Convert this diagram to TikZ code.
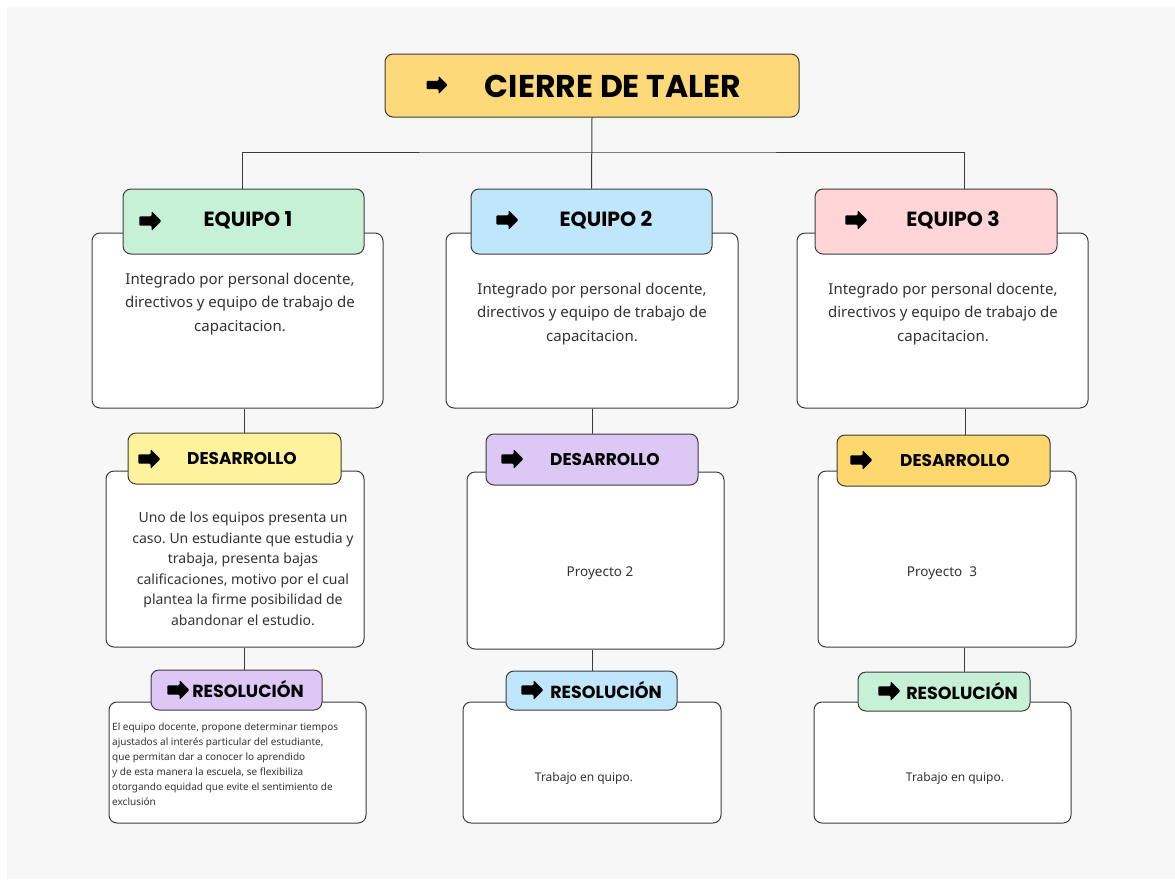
\documentclass[tikz,border=0pt]{standalone}
\usepackage{fontspec}
\setmainfont{Noto Sans}
\newfontfamily\headfont{Poppins}
\usetikzlibrary{shapes.arrows}
\frenchspacing

\definecolor{bggrey}{HTML}{F7F7F7}
\definecolor{linegrey}{HTML}{3C3C3C}
\definecolor{textgrey}{HTML}{333333}
\definecolor{titleyellow}{HTML}{FDD97A}
\definecolor{mintgreen}{HTML}{C6F1D6}
\definecolor{skyblue}{HTML}{BFE6FB}
\definecolor{rosepink}{HTML}{FFD5D8}
\definecolor{paleyellow}{HTML}{FEF39C}
\definecolor{lavender}{HTML}{DCC7F5}
\definecolor{gold}{HTML}{FDD86E}

\tikzset{
  box/.style={draw=linegrey, line width=1pt, rounded corners=8pt, fill=white, inner sep=0pt},
  bodytext/.style={text=textgrey, align=center, inner sep=0pt},
  headtext/.style={text=black, inner sep=0pt, font=\headfont\bfseries\fontsize{17}{20}\selectfont},
  eqtext/.style={headtext, font=\headfont\bfseries\fontsize{20.5}{22}\selectfont},
  arrowmark/.style={single arrow, fill=black, inner sep=4.4pt, minimum height=22pt,
    single arrow head extend=5.2pt, rounded corners=1pt},
  link/.style={draw=linegrey, line width=1pt}
}

\begin{document}
\begin{tikzpicture}[x=1pt,y=-1pt]
        \useasboundingbox (0,0) rectangle (1175,879);
        \fill[bggrey] (7,7) rectangle (1175,879);

        \node[box, fill=titleyellow, minimum width=414, minimum height=63] (title) at (592,85.5) {};
        \node[arrowmark, minimum height=21pt, inner sep=4pt, single arrow head extend=4.8pt] (titlea) at (435,85) {};
        \node[headtext, font=\headfont\bfseries\fontsize{31.5}{33}\selectfont] (titlet) at (613,86) {CIERRE DE TALER};

        \node[box, minimum width=291, minimum height=175] (e1b) at (237.5,320.5) {};
        \node[box, minimum width=292, minimum height=175] (e2b) at (592,320.5) {};
        \node[box, minimum width=291, minimum height=175] (e3b) at (942.5,320.5) {};

        \node[box, fill=mintgreen, minimum width=241, minimum height=65] (e1h) at (243.5,221.5) {};
        \node[box, fill=skyblue, minimum width=241, minimum height=65] (e2h) at (591.5,221.5) {};
        \node[box, fill=rosepink, minimum width=242, minimum height=65] (e3h) at (936,221.5) {};

        \node[arrowmark] (e1a) at (148,221) {};
        \node[arrowmark] (e2a) at (505,220) {};
        \node[arrowmark] (e3a) at (854,220) {};
        \node[eqtext] (e1t) at (248,220) {EQUIPO 1};
        \node[eqtext] (e2t) at (606,220) {EQUIPO 2};
        \node[eqtext] (e3t) at (953,220) {EQUIPO 3};

        \node[bodytext, font=\fontsize{15}{23.5}\selectfont] (e1x) at (240,304)
            {Integrado por personal docente,\\directivos y equipo de trabajo de\\capacitacion.};
        \node[bodytext, font=\fontsize{15}{23.5}\selectfont] (e2x) at (592,314)
            {Integrado por personal docente,\\directivos y equipo de trabajo de\\capacitacion.};
        \node[bodytext, font=\fontsize{15}{23.5}\selectfont] (e3x) at (943,314)
            {Integrado por personal docente,\\directivos y equipo de trabajo de\\capacitacion.};

        \node[box, minimum width=258, minimum height=176] (d1b) at (235,559) {};
        \node[box, minimum width=257, minimum height=177] (d2b) at (595.5,560.5) {};
        \node[box, minimum width=258, minimum height=176] (d3b) at (947,559) {};

        \node[box, fill=paleyellow, minimum width=213, minimum height=51] (d1h) at (234.5,458.5) {};
        \node[box, fill=lavender, minimum width=212, minimum height=51] (d2h) at (592,459.5) {};
        \node[box, fill=gold, minimum width=213, minimum height=51] (d3h) at (943.5,460.5) {};

        \node[arrowmark] (d1a) at (147,459) {};
        \node[arrowmark] (d2a) at (510,459) {};
        \node[arrowmark] (d3a) at (859,460) {};
        \node[headtext] (d1t) at (242,458) {DESARROLLO};
        \node[headtext] (d2t) at (605,459) {DESARROLLO};
        \node[headtext] (d3t) at (955,460) {DESARROLLO};

        \node[bodytext, font=\fontsize{14}{20.5}\selectfont] (d1x) at (243,569)
            {Uno de los equipos presenta un\\caso. Un estudiante que estudia y\\trabaja, presenta bajas\\calificaciones, motivo por el cual\\plantea la firme posibilidad de\\abandonar el estudio.};
        \node[bodytext, font=\fontsize{13.5}{16}\selectfont] (d2x) at (600,573) {Proyecto 2};
        \node[bodytext, font=\fontsize{13.5}{16}\selectfont] (d3x) at (942,573) {Proyecto\ \ 3};

        \node[box, minimum width=257, minimum height=121] (r1b) at (237.5,762.5) {};
        \node[box, minimum width=258, minimum height=121] (r2b) at (592,762.5) {};
        \node[box, minimum width=257, minimum height=121] (r3b) at (942.5,762.5) {};

        \node[box, fill=lavender, minimum width=171, minimum height=40] (r1h) at (236.5,690) {};
        \node[box, fill=skyblue, minimum width=171, minimum height=39] (r2h) at (591.5,690.5) {};
        \node[box, fill=mintgreen, minimum width=172, minimum height=39] (r3h) at (944,691.5) {};

        \node[arrowmark] (r1a) at (176,690) {};
        \node[arrowmark] (r2a) at (530,690) {};
        \node[arrowmark] (r3a) at (887,691) {};
        \node[headtext, font=\headfont\bfseries\fontsize{17.5}{20}\selectfont] (r1t) at (248,689) {RESOLUCIÓN};
        \node[headtext, font=\headfont\bfseries\fontsize{17.5}{20}\selectfont] (r2t) at (606,690) {RESOLUCIÓN};
        \node[headtext, font=\headfont\bfseries\fontsize{17.5}{20}\selectfont] (r3t) at (962,691) {RESOLUCIÓN};

        \node[bodytext, anchor=west, align=left, font=\fontsize{10}{15}\selectfont] (r1x) at (112,764.5)
            {El equipo docente, propone determinar tiempos\\ajustados al interés particular del estudiante,\\que permitan dar a conocer lo aprendido\\y de esta manera la escuela, se flexibiliza\\otorgando equidad que evite el sentimiento de\\exclusión};
        \node[bodytext, font=\fontsize{12}{14}\selectfont] (r2x) at (584,778) {Trabajo en quipo.};
        \node[bodytext, font=\fontsize{12}{14}\selectfont] (r3x) at (955,778) {Trabajo en quipo.};

        \coordinate (bus) at (592,152);
        \draw[link] (title.south) -- (e2h.north);
        \draw[link] ([xshift=-1.5pt]e1h.north) |- (bus) -| ([xshift=28pt]e3h.north);

        \draw[link] ([xshift=6.5pt]e1b.south) -- ([xshift=6.5pt]e1b.south |- d1h.north);
        \draw[link] (e2b.south) -- (e2b.south |- d2h.north);
        \draw[link] ([xshift=22.5pt]e3b.south) -- ([xshift=22.5pt]e3b.south |- d3h.north);

        \draw[link] ([xshift=9pt]d1b.south) -- ([xshift=9pt]d1b.south |- r1h.north);
        \draw[link] ([xshift=-3.5pt]d2b.south) -- ([xshift=-3.5pt]d2b.south |- r2h.north);
        \draw[link] ([xshift=17pt]d3b.south) -- ([xshift=17pt]d3b.south |- r3h.north);
    \end{tikzpicture}
\end{document}
